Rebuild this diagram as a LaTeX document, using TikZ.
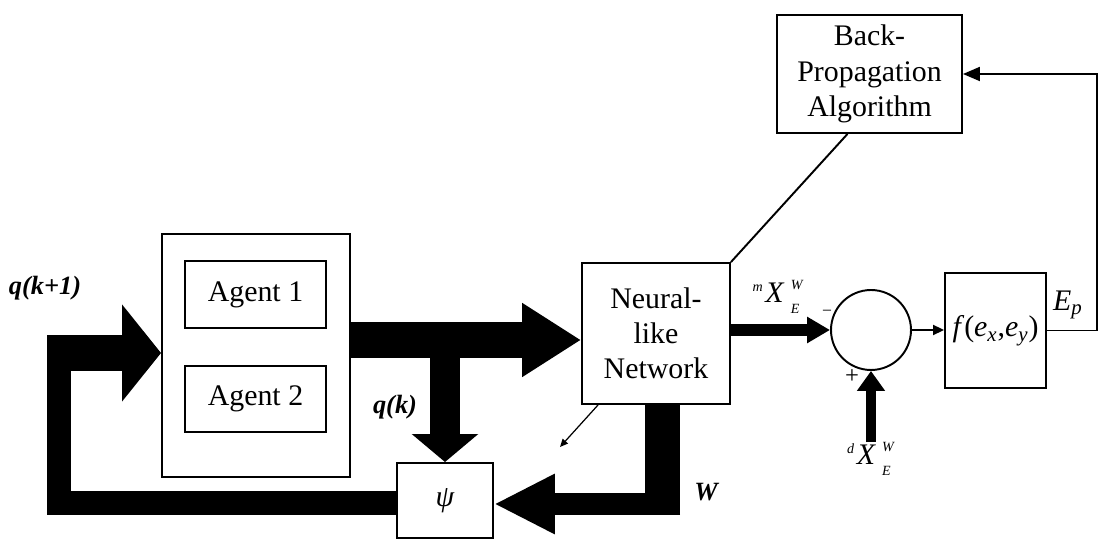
\documentclass[tikz,border=0pt]{standalone}
\usepackage{fontspec}
\setmainfont{Liberation Serif}
\usetikzlibrary{arrows.meta,calc}
\newcommand{\myxew}[1]{{\fontsize{8}{8}\selectfont\itshape\raisebox{6pt}{#1}}\kern1.5pt\textit{X}\kern3.5pt{\fontsize{8}{8}\selectfont\itshape\makebox[0pt][l]{\raisebox{7pt}{W}}\raisebox{-6.5pt}{E}}}
\begin{document}
\begin{tikzpicture}[x=0.02cm,y=-0.02cm,
  box/.style={draw,line width=1.1pt,inner sep=0pt,align=center,font=\fontsize{17}{20}\selectfont},
  lbl/.style={inner sep=0pt,font=\fontsize{15}{15}\selectfont\bfseries\itshape},
  txt/.style={inner sep=0pt,font=\fontsize{17}{20}\selectfont},
  thinline/.style={line width=1.1pt},
  thick arrow/.style={line join=miter}]
\useasboundingbox (0,0) rectangle (1100,540);
% blocks
\node[box,minimum width=3.76cm,minimum height=4.86cm] (agents) at (256,355.5) {};
\node[box,minimum width=2.82cm,minimum height=1.34cm] (a1) at (255.5,294.5) {Agent 1};
\node[box,minimum width=2.82cm,minimum height=1.32cm] (a2) at (255.5,399) {Agent 2};
\node[box,minimum width=2.96cm,minimum height=2.82cm] (nn) at (656,333.5) {Neural-\\like\\Network};
\node[box,minimum width=1.92cm,minimum height=1.5cm] (psi) at (445,500.5) {\itshape ψ};
\node[box,minimum width=3.7cm,minimum height=2.36cm] (bp) at (869.5,74) {Back-\\Propagation\\Algorithm};
\node[draw,thinline,circle,minimum size=1.6cm,inner sep=0pt] (sum) at (871,330) {};
\node[box,minimum width=2.02cm,minimum height=2.3cm] (f) at (995.5,330.5) {\textit{f}(\textit{e}\textsubscript{\textit{x}},\textit{e}\textsubscript{\textit{y}})};
% labels
\node[lbl] (qk1) at (45,288) {q(k+1)};
\node[lbl] (qk) at (395,407) {q(k)};
\node[lbl] (wl) at (706,492) {W};
\node[txt] (ep) at (1068,305) {\textit{E}\textsubscript{\textit{p}}};
\node[txt] (mx) at (776,297) {\myxew{m}};
\node[txt] (dx) at (869,459) {\myxew{d}};
\node[inner sep=0pt,font=\fontsize{10}{10}\selectfont] (minus) at (827,313) {−};
\node[inner sep=0pt,font=\fontsize{14}{14}\selectfont] (plus) at (852,377) {+};
% helper coordinates
\coordinate (y340) at (0,340);
\coordinate (y353) at (0,353);
\coordinate (fbL) at (59,503);
\coordinate (fbS) at (47,353);
\coordinate (wc) at (662.5,515);
\coordinate (wh) at (680,504);
\coordinate (rc) at (1097,0);
\coordinate (wout) at (560,447);
% thick arrows
\draw[line width=0.72cm,-{Triangle[length=1.18cm,width=1.4cm]}] (agents.east |- y340) -- (nn.west |- y340);
\draw[line width=0.6cm,-{Triangle[length=0.56cm,width=1.3cm]}] (psi.north |- y340) -- (psi.north);
\draw[line width=0.48cm,thick arrow] (psi.west |- fbL) -- (fbL) -- (fbL |- y353);
\draw[line width=0.72cm,-{Triangle[length=0.78cm,width=1.9cm]}] (fbS) -- (agents.west |- y353);
\draw[line width=0.7cm] (nn.south -| wc) -- (wc);
\draw[line width=0.44cm,-{Triangle[length=1.22cm,width=1.12cm]}] (wh) -- (psi.east |- wh);
\draw[line width=0.24cm,-{Triangle[length=0.46cm,width=0.5cm]}] (nn.east |- sum.west) -- (sum.west);
\draw[line width=0.2cm,-{Triangle[length=0.4cm,width=0.54cm]}] (sum.south |- dx.north) -- (sum.south);
% thin connectors
\draw[thinline,-{Triangle[length=0.22cm,width=0.2cm]}] (sum.east) -- (f.west |- sum.east);
\draw[thinline,-{Triangle[length=0.34cm,width=0.28cm]}] (f.east) -- (f.east -| rc) -- (bp.east -| rc) -- (bp.east);
\draw[thinline] (nn.north east) -- ($(bp.south)+(-22,0)$);
\draw[line width=0.7pt,-{Triangle[length=0.16cm,width=0.14cm]}] ($(nn.south west)+(17,0)$) -- (wout);
\end{tikzpicture}
\end{document}
